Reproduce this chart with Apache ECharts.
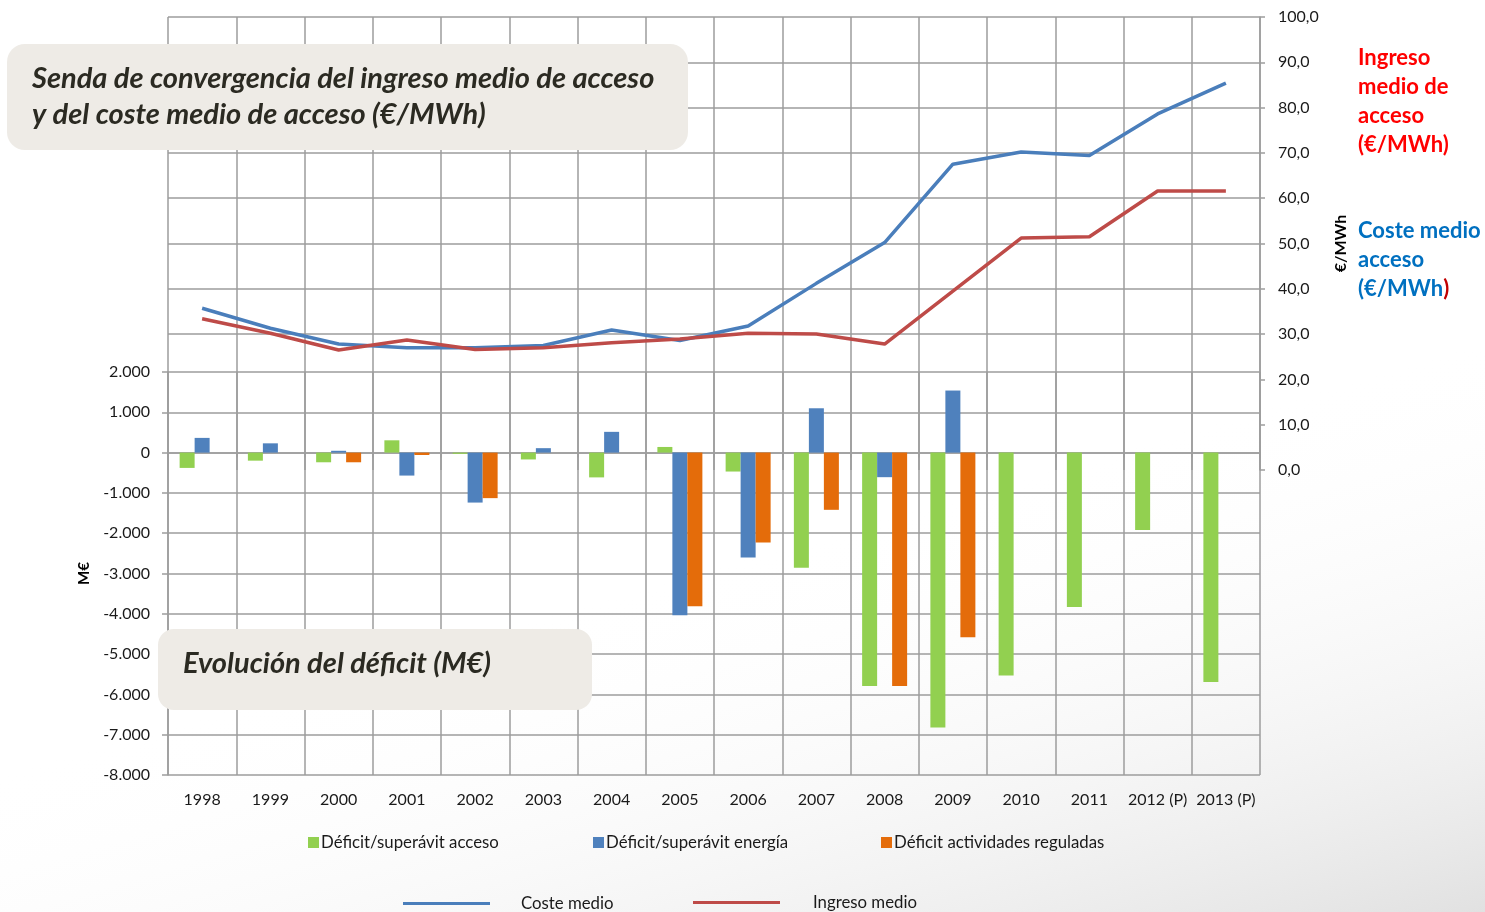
<!DOCTYPE html>
<html>
<head>
<meta charset="utf-8">
<script src="https://cdn.jsdelivr.net/npm/echarts@6/dist/echarts.min.js"></script>
<style>
html,body{margin:0;padding:0;background:#fff;}
#chart{width:1485px;height:912px;}
</style>
</head>
<body>
<div id="chart"></div>
<script>
const years = ['1998','1999','2000','2001','2002','2003','2004','2005','2006','2007','2008','2009','2010','2011','2012 (P)','2013 (P)'];
const accesoDeficit = [-380,-200,-240,305,-30,-170,-615,140,-470,-2860,-5790,-6820,-5530,-3830,-1920,-5690];
const energiaDeficit = [365,230,45,-570,-1240,110,515,-4035,-2600,1100,-610,1540,null,null,null,null];
const reguladasDeficit = [null,null,-240,-60,-1130,null,null,-3810,-2230,-1420,-5790,-4580,null,null,null,null];
const costeMedio = [35.7,31.3,27.8,27.0,27.0,27.5,30.9,28.6,31.8,41.2,50.2,67.5,70.2,69.4,78.6,85.4];
const ingresoMedio = [33.4,30.2,26.5,28.7,26.6,27.0,28.1,28.9,30.2,30.0,27.8,39.5,51.2,51.5,61.6,61.6];
const leftTicks = {min:-8000, max:2000, interval:1000};
const rightTicks = {min:0, max:100, interval:10};

const FONT = 'Lato';
const GRID = '#9d9d9d';
const chart = echarts.init(document.getElementById('chart'), null, {renderer:'canvas'});

const splitColors = [];
for (let v = rightTicks.min; v <= rightTicks.max; v += rightTicks.interval) splitColors.push(v >= 30 ? GRID : 'rgba(0,0,0,0)');

chart.setOption({
  backgroundColor: '#fff',
  animation: false,
  textStyle: {fontFamily: FONT},
  grid: [
    {left:168, width:1092, top:372, height:403},
    {left:168, width:1092, top:17, height:453}
  ],
  xAxis: [
    {
      type:'category', gridIndex:0, data: years, boundaryGap:true,
      axisLine:{show:true, lineStyle:{color:GRID, width:1.5}},
      axisTick:{show:true, interval:0, length:5, lineStyle:{color:GRID, width:1.5}},
      splitLine:{show:true, interval:0, lineStyle:{color:GRID, width:1.5}},
      axisLabel:{interval:0, color:'#1a1a1a', fontSize:16, margin:17, fontFamily:FONT}
    },
    {
      type:'category', gridIndex:1, data: years, boundaryGap:true,
      axisLine:{show:false}, axisTick:{show:false}, axisLabel:{show:false},
      splitLine:{show:true, interval:0, lineStyle:{color:GRID, width:1.5}}
    }
  ],
  yAxis: [
    {
      type:'value', gridIndex:0, position:'left',
      min:leftTicks.min, max:leftTicks.max, interval:leftTicks.interval,
      axisLine:{show:true, lineStyle:{color:GRID, width:1.5}},
      axisTick:{show:true, length:6, lineStyle:{color:GRID, width:1.5}},
      splitLine:{show:true, lineStyle:{color:GRID, width:1.5}},
      axisLabel:{color:'#1a1a1a', fontSize:16, margin:18, fontFamily:FONT,
        formatter: v => { const s = Math.abs(v).toString().replace(/\B(?=(\d{3})+(?!\d))/g,'.'); return (v<0?'-':'') + s; }},
      name:'M€', nameLocation:'middle', nameRotate:90, nameGap:76,
      nameTextStyle:{color:'#000', fontSize:15, fontWeight:'bold', fontFamily:FONT}
    },
    {
      type:'value', gridIndex:1, position:'right',
      min:rightTicks.min, max:rightTicks.max, interval:rightTicks.interval,
      axisLine:{show:true, lineStyle:{color:GRID, width:1.5}},
      axisTick:{show:true, length:5, lineStyle:{color:GRID, width:1.5}},
      splitLine:{show:true, lineStyle:{color:splitColors, width:1.5}},
      axisLabel:{color:'#1a1a1a', fontSize:16, margin:18, fontFamily:FONT,
        formatter: v => v.toFixed(1).replace('.', ',')},
      name:'€/MWh', nameLocation:'middle', nameRotate:90, nameGap:73,
      nameTextStyle:{color:'#000', fontSize:16, fontWeight:'bold', fontFamily:FONT}
    }
  ],
  legend: [
    {data:['Déficit/superávit acceso'], left:308, top:834, padding:0, icon:'rect', itemWidth:11, itemHeight:11,
      textStyle:{fontSize:16.8, color:'#1a1a1a', fontFamily:FONT, padding:[0,0,0,-3]}},
    {data:['Déficit/superávit energía'], left:593, top:834, padding:0, icon:'rect', itemWidth:11, itemHeight:11,
      textStyle:{fontSize:16.8, color:'#1a1a1a', fontFamily:FONT, padding:[0,0,0,-3]}},
    {data:['Déficit actividades reguladas'], left:881, top:834, padding:0, icon:'rect', itemWidth:11, itemHeight:11,
      textStyle:{fontSize:16.8, color:'#1a1a1a', fontFamily:FONT, padding:[0,0,0,-3]}},
    {data:['Coste medio'], left:403, top:895, padding:0, icon:'rect', itemWidth:87, itemHeight:3,
      textStyle:{fontSize:16.8, color:'#1a1a1a', fontFamily:FONT, padding:[0,0,0,26]}},
    {data:['Ingreso medio'], left:693, top:894, padding:0, icon:'rect', itemWidth:87, itemHeight:3,
      textStyle:{fontSize:16.8, color:'#1a1a1a', fontFamily:FONT, padding:[0,0,0,28]}}
  ],
  series: [
    {name:'Déficit/superávit acceso', type:'bar', xAxisIndex:0, yAxisIndex:0, data:accesoDeficit,
      barWidth:15, barGap:'0%', itemStyle:{color:'#92D050'}},
    {name:'Déficit/superávit energía', type:'bar', xAxisIndex:0, yAxisIndex:0, data:energiaDeficit,
      barWidth:15, barGap:'0%', itemStyle:{color:'#4F81BD'}},
    {name:'Déficit actividades reguladas', type:'bar', xAxisIndex:0, yAxisIndex:0, data:reguladasDeficit,
      barWidth:15, barGap:'0%', itemStyle:{color:'#E46C0A'}},
    {name:'Coste medio', type:'line', xAxisIndex:1, yAxisIndex:1, data:costeMedio, symbol:'none',
      lineStyle:{color:'#4A7EBB', width:3.5}, itemStyle:{color:'#4A7EBB'}, z:5},
    {name:'Ingreso medio', type:'line', xAxisIndex:1, yAxisIndex:1, data:ingresoMedio, symbol:'none',
      lineStyle:{color:'#BE4B48', width:3.5}, itemStyle:{color:'#BE4B48'}, z:5}
  ],
  graphic: [
    {type:'rect', z:-10, silent:true, shape:{x:0, y:0, width:1485, height:912},
      style:{fill:{type:'linear', x:1330, y:380, x2:1485, y2:912, global:true,
        colorStops:[{offset:0, color:'rgba(255,255,255,0)'},{offset:1, color:'rgba(225,225,225,1)'}]}}},
    {type:'rect', z:100, shape:{x:7, y:44, width:681, height:106, r:18}, style:{fill:'#EEEBE6'}},
    {type:'text', z:101, x:32, y:97, style:{
      text:'Senda de convergencia del ingreso medio de acceso\ny del coste medio de acceso (€/MWh)',
      font:'italic bold 29px Lato', fill:'#2b2a22', lineHeight:36, verticalAlign:'middle', align:'left'}},
    {type:'rect', z:100, shape:{x:158, y:629, width:434, height:81, r:16}, style:{fill:'#EEEBE6'}},
    {type:'text', z:101, x:183, y:664, style:{
      text:'Evolución del déficit (M€)', font:'italic bold 29px Lato', fill:'#2b2a22', verticalAlign:'middle', align:'left'}},
    {type:'text', z:101, x:1358, y:43, style:{
      text:'Ingreso\nmedio de\nacceso\n(€/MWh)', font:'bold 22px Lato', fill:'#FF0000', lineHeight:29, verticalAlign:'top', align:'left'}},
    {type:'text', z:101, x:1358, y:216, style:{
      text:'{b|Coste medio}\n{b|acceso}\n{b|(€/MWh}{r|)}',
      rich:{b:{font:'bold 22px Lato', fill:'#0070C0', lineHeight:29}, r:{font:'bold 22px Lato', fill:'#C00000', lineHeight:29}},
      verticalAlign:'top', align:'left'}}
  ]
});
</script>
</body>
</html>
